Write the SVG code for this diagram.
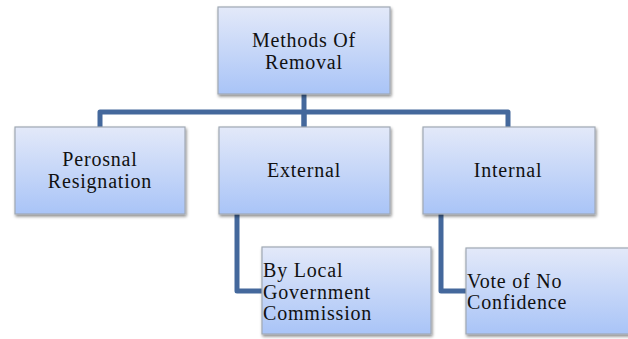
<svg xmlns="http://www.w3.org/2000/svg" width="628" height="339" viewBox="0 0 628 339">
  <defs>
    <linearGradient id="boxGrad" x1="0" y1="0" x2="0" y2="1">
      <stop offset="0" stop-color="#e3e9f9"/>
      <stop offset="1" stop-color="#a9c4f7"/>
    </linearGradient>
    <filter id="shadow" x="-10%" y="-10%" width="125%" height="130%">
      <feDropShadow dx="1" dy="2" stdDeviation="1.5" flood-color="#000" flood-opacity="0.45"/>
    </filter>
  </defs>
  <style>
    .box { fill: url(#boxGrad); stroke: #a0a8b4; stroke-width: 1.2; filter: url(#shadow); }
    .lbl { font-family: "Liberation Serif", "Times New Roman", serif; font-size: 20px; letter-spacing: 0.8px; fill: #111; }
    .c { text-anchor: middle; }
    .l { text-anchor: start; }
    .conn { fill: none; stroke: #44689c; stroke-width: 5; stroke-linejoin: round; stroke-linecap: butt; }
  </style>
  <rect width="628" height="339" fill="#ffffff"/>

  <g id="connectors">
    <path class="conn" d="M304 94 V127"/>
    <path class="conn" d="M100 127 V112 H508 V127"/>
    <path class="conn" d="M304 112 V127"/>
    <path class="conn" d="M237 214 V291 H262"/>
    <path class="conn" d="M441 214 V291 H466"/>
  </g>

  <g id="methods-of-removal">
    <rect class="box" x="218" y="7" width="172" height="87"/>
    <text class="lbl c" x="304" y="47">Methods Of</text>
    <text class="lbl c" x="304" y="69">Removal</text>
  </g>

  <g id="personal-resignation">
    <rect class="box" x="15" y="127" width="170" height="87"/>
    <text class="lbl c" x="100" y="166">Perosnal</text>
    <text class="lbl c" x="100" y="188">Resignation</text>
  </g>

  <g id="external">
    <rect class="box" x="219" y="127" width="171" height="87"/>
    <text class="lbl c" x="304" y="177">External</text>
  </g>

  <g id="internal">
    <rect class="box" x="423" y="127" width="172" height="87"/>
    <text class="lbl c" x="508" y="177">Internal</text>
  </g>

  <g id="by-local-government-commission">
    <rect class="box" x="262" y="247" width="169" height="87"/>
    <text class="lbl l" x="263" y="277">By Local</text>
    <text class="lbl l" x="263" y="299">Government</text>
    <text class="lbl l" x="263" y="320">Commission</text>
  </g>

  <g id="vote-of-no-confidence">
    <rect class="box" x="466" y="248" width="170" height="86"/>
    <text class="lbl l" x="467" y="288">Vote of No</text>
    <text class="lbl l" x="467" y="309">Confidence</text>
  </g>
</svg>
